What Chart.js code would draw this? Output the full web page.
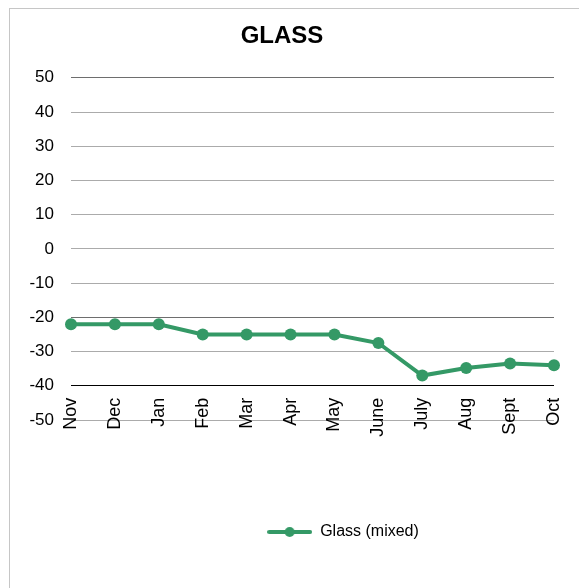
<!DOCTYPE html>
<html>
<head>
<meta charset="utf-8">
<script src="https://cdn.jsdelivr.net/npm/chart.js@4.4.1/dist/chart.umd.min.js"></script>
<style>
  html, body { margin: 0; padding: 0; background: #fff; overflow: hidden; width: 579px; height: 588px; }
  #frame { position: absolute; left: 9px; top: 8px; width: 700px; height: 700px; border: 1px solid #c6c6c6; box-sizing: border-box; }
  #wrap { position: absolute; left: 10px; top: 9px; width: 579px; height: 579px; }
</style>
</head>
<body>
<div id="frame"></div>
<div id="wrap"><canvas id="c"></canvas></div>
<script>
"use strict";
// Glass (mixed) monthly line chart, Excel-style: x labels hang off the -40 line.
const months = ["Nov", "Dec", "Jan", "Feb", "Mar", "Apr", "May", "June", "July", "Aug", "Sept", "Oct"];
const glassMixed = [-22, -22, -22, -25, -25, -25, -25, -27.5, -37, -34.8, -33.5, -34];
const yTicks = [50, 40, 30, 20, 10, 0, -10, -20, -30, -40, -50];
const axisCross = -40;

const green = "rgb(52,153,102)";
const font = "'Liberation Sans', Arial, sans-serif";

// legend swatch: short line with a dot in the middle
function swatch() {
  const cv = document.createElement("canvas");
  cv.width = 45; cv.height = 12;
  const g = cv.getContext("2d");
  g.strokeStyle = green; g.lineWidth = 4; g.lineCap = "round";
  g.beginPath(); g.moveTo(2, 6); g.lineTo(43, 6); g.stroke();
  g.fillStyle = green; g.beginPath(); g.arc(22.5, 6, 5, 0, Math.PI * 2); g.fill();
  return cv;
}

const gridColor = (ctx) => {
  const v = ctx.tick && ctx.tick.value;
  if (v === axisCross) return "#000";
  if (v === 50 || v === -20) return "#6e6e6e";
  return "#ababab";
};

// nudge the legend right, it sits off-centre in the original
const legendShift = {
  id: "legendShift",
  afterLayout(chart) { const lg = chart.legend; if (lg) { lg.left += 61; lg.right += 61; } }
};

new Chart(document.getElementById("c"), {
  type: "line",
  data: {
    labels: months,
    datasets: [{
      label: "Glass (mixed)", data: glassMixed,
      borderColor: green, backgroundColor: green, borderWidth: 4,
      pointRadius: 6, pointHoverRadius: 6, pointBorderWidth: 0, pointBackgroundColor: green,
      tension: 0, clip: false
    }]
  },
  options: {
    responsive: true, maintainAspectRatio: false, animation: false,
    layout: { padding: { left: 0, right: 35, top: 0, bottom: 38 } },
    plugins: {
      title: { display: true, text: "GLASS", color: "#000", font: { family: font, size: 24, weight: "bold" }, padding: { top: 13, bottom: 27 } },
      legend: {
        position: "bottom",
        labels: { usePointStyle: true, pointStyle: swatch(), pointStyleWidth: 45, color: "#000", padding: 104, font: { family: font, size: 16 } }
      },
      tooltip: { enabled: false }
    },
    scales: {
      x: {
        position: { y: axisCross },
        offset: false,
        grid: { display: false, drawTicks: false },
        border: { display: false },
        ticks: { color: "#000", font: { family: font, size: 18 }, minRotation: 90, maxRotation: 90, autoSkip: false, padding: 12 },
        afterFit: (s) => { s.height = 16; }
      },
      y: {
        min: -50, max: 50,
        afterBuildTicks: (s) => { s.ticks = yTicks.map(v => ({ value: v })); },
        grid: { color: gridColor, drawTicks: false, lineWidth: 1 },
        border: { display: false },
        ticks: { color: "#000", font: { family: font, size: 17 }, padding: 17 },
        afterFit: (s) => { s.width = 61; }
      }
    }
  },
  plugins: [legendShift]
});
</script>
</body>
</html>
